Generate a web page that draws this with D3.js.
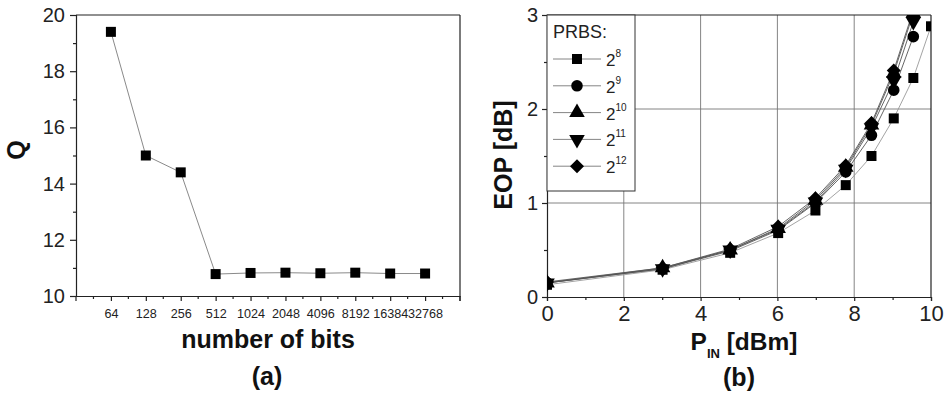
<!DOCTYPE html>
<html>
<head>
<meta charset="utf-8">
<script src="https://cdn.jsdelivr.net/npm/d3@7/dist/d3.min.js"></script>
<style>
  html, body { margin: 0; padding: 0; background: #fff; }
  svg { display: block; font-family: "Liberation Sans", Arial, sans-serif; }
  .axis path, .axis line { stroke: #222; stroke-width: 1.2; }
  .axis text { fill: #222; }
</style>
</head>
<body>
<svg id="chart" width="946" height="396"></svg>
<script>
// (a) Q factor versus pattern length
const bitCounts = ["64", "128", "256", "512", "1024", "2048", "4096", "8192", "16384", "32768"];
const qValues = [19.4, 15.0, 14.4, 10.78, 10.82, 10.83, 10.81, 10.83, 10.8, 10.8];
const qTicks = [10, 12, 14, 16, 18, 20];

// (b) eye-opening penalty versus input power, one series per PRBS length
const pinDbm = [0, 3.01, 4.77, 6.02, 6.99, 7.78, 8.45, 9.03, 9.54, 10];
const prbsNames = ["8", "9", "10", "11", "12"];
const eop2e8 = [0.13, 0.29, 0.47, 0.68, 0.92, 1.19, 1.50, 1.90, 2.33, 2.88];
const eop2e9 = [0.15, 0.30, 0.49, 0.71, 1.00, 1.33, 1.72, 2.20, 2.77];
const eop2e10 = [0.15, 0.31, 0.50, 0.73, 1.03, 1.38, 1.83, 2.38, 3.02];
const eop2e11 = [0.15, 0.30, 0.50, 0.72, 1.01, 1.36, 1.80, 2.30, 2.93];
const eop2e12 = [0.16, 0.31, 0.51, 0.75, 1.05, 1.40, 1.85, 2.41, 3.05];
const eopSeries = [eop2e8, eop2e9, eop2e10, eop2e11, eop2e12];
const markerShapes = ["square", "circle", "up", "down", "diamond"];
const pinTicks = [0, 2, 4, 6, 8, 10];
const eopTicks = [0, 1, 2, 3];

const svg = d3.select("#chart");

// marker path centred on the origin
function marker(shape) {
  switch (shape) {
    case "square": return d3.symbol().type(d3.symbolSquare).size(100)();
    case "circle": return d3.symbol().type(d3.symbolCircle).size(105)();
    case "up":
    case "down": return d3.symbol().type(d3.symbolTriangle).size(105)();
    case "diamond": { const r = 7; return `M0,${-r}L${r},0L0,${r}L${-r},0Z`; }
  }
}
function markerTransform(shape, x, y) {
  return shape === "down" ? `translate(${x},${y}) rotate(180)` : `translate(${x},${y})`;
}
function title(g, text) {
  return g.append("text").attr("text-anchor", "middle")
    .style("font-size", "25px").style("font-weight", "bold").attr("fill", "#111").text(text);
}

// ---------- panel (a) ----------
const A = { left: 76, right: 460, top: 15, bottom: 296 };
const xa = d3.scalePoint().domain(bitCounts).range([A.left, A.right]).padding(1);
const ya = d3.scaleLinear().domain([10, 20]).range([A.bottom, A.top]);
const ga = svg.append("g");

// frame top/right
ga.append("line").attr("x1", A.left).attr("x2", A.right).attr("y1", A.top).attr("y2", A.top)
  .attr("stroke", "#222").attr("stroke-width", 1.2);
ga.append("line").attr("x1", A.right).attr("x2", A.right).attr("y1", A.top).attr("y2", A.bottom + 5)
  .attr("stroke", "#222").attr("stroke-width", 1.2);

// y axis
const yaAxis = ga.append("g").attr("class", "axis").attr("transform", `translate(${A.left},0)`)
  .call(d3.axisLeft(ya).tickValues(qTicks).tickSize(6).tickPadding(5).tickFormat(d3.format("d")));
yaAxis.selectAll("text").style("font-size", "20px");
ga.append("g").attr("class", "axis").attr("transform", `translate(${A.left},0)`)
  .call(d3.axisLeft(ya).tickValues(d3.range(11, 20, 2)).tickSize(3).tickFormat(""))
  .select(".domain").remove();

// x axis (categories); extra ticks between categories
const xaAxis = ga.append("g").attr("class", "axis").attr("transform", `translate(0,${A.bottom})`)
  .call(d3.axisBottom(xa).tickSize(5).tickPadding(8).tickSizeOuter(0));
xaAxis.selectAll("text").style("font-size", "12.6px");
const step = xa.step();
const extraTicks = [{ x: A.left, len: 5 }, { x: A.right, len: 5 }];
for (let i = 0; i <= bitCounts.length; i++) extraTicks.push({ x: A.left + (i + 0.5) * step, len: 3 });
ga.selectAll(".mtick").data(extraTicks).join("line")
  .attr("x1", d => d.x).attr("x2", d => d.x)
  .attr("y1", A.bottom).attr("y2", d => A.bottom + d.len)
  .attr("stroke", "#222").attr("stroke-width", 1.2);

// data line + markers
ga.append("path")
  .datum(qValues)
  .attr("fill", "none").attr("stroke", "#8a8a8a").attr("stroke-width", 1)
  .attr("d", d3.line().x((d, i) => xa(bitCounts[i])).y(d => ya(d)));
ga.selectAll(".qpt").data(qValues).join("path")
  .attr("d", marker("square"))
  .attr("transform", (d, i) => `translate(${xa(bitCounts[i])},${ya(d)})`)
  .attr("fill", "#000");

// titles
title(ga, "Q").attr("transform", `translate(25,150) rotate(-90)`);
title(ga, "number of bits").attr("x", 268).attr("y", 348);
title(ga, "(a)").attr("x", 267).attr("y", 385);

// ---------- panel (b) ----------
const B = { left: 547, right: 931, top: 15, bottom: 297 };
const xb = d3.scaleLinear().domain([0, 10]).range([B.left, B.right]);
const yb = d3.scaleLinear().domain([0, 3]).range([B.bottom, B.top]);
const gb = svg.append("g");

gb.append("clipPath").attr("id", "clipB").append("rect")
  .attr("x", B.left).attr("y", B.top).attr("width", B.right - B.left).attr("height", B.bottom - B.top);

// grid
gb.selectAll(".vgrid").data(pinTicks.slice(1, -1)).join("line")
  .attr("x1", d => xb(d)).attr("x2", d => xb(d)).attr("y1", B.top).attr("y2", B.bottom)
  .attr("stroke", "#777").attr("stroke-width", 0.9);
gb.selectAll(".hgrid").data(eopTicks.slice(1, -1)).join("line")
  .attr("x1", B.left).attr("x2", B.right).attr("y1", d => yb(d)).attr("y2", d => yb(d))
  .attr("stroke", "#777").attr("stroke-width", 0.9);

// frame top/right
gb.append("line").attr("x1", B.left).attr("x2", B.right).attr("y1", B.top).attr("y2", B.top)
  .attr("stroke", "#222").attr("stroke-width", 1.2);
gb.append("line").attr("x1", B.right).attr("x2", B.right).attr("y1", B.top).attr("y2", B.bottom)
  .attr("stroke", "#222").attr("stroke-width", 1.2);

// axes
const ybAxis = gb.append("g").attr("class", "axis").attr("transform", `translate(${B.left},0)`)
  .call(d3.axisLeft(yb).tickValues(eopTicks).tickSize(5).tickPadding(4).tickFormat(d3.format("d")));
ybAxis.selectAll("text").style("font-size", "20px");
gb.append("g").attr("class", "axis").attr("transform", `translate(${B.left},0)`)
  .call(d3.axisLeft(yb).tickValues([0.5, 1.5, 2.5]).tickSize(3).tickFormat(""))
  .select(".domain").remove();
const xbAxis = gb.append("g").attr("class", "axis").attr("transform", `translate(0,${B.bottom})`)
  .call(d3.axisBottom(xb).tickValues(pinTicks).tickSize(4).tickPadding(4).tickFormat(d3.format("d")));
xbAxis.selectAll("text").style("font-size", "22px");
gb.append("g").attr("class", "axis").attr("transform", `translate(0,${B.bottom})`)
  .call(d3.axisBottom(xb).tickValues([1, 3, 5, 7, 9]).tickSize(3).tickFormat(""))
  .select(".domain").remove();

// series
const lineB = d3.line().x((d, i) => xb(pinDbm[i])).y(d => yb(d));
const plotB = gb.append("g").attr("clip-path", "url(#clipB)");
eopSeries.forEach((vals, s) => {
  plotB.append("path").datum(vals)
    .attr("fill", "none").attr("stroke", s === 0 ? "#999" : "#555").attr("stroke-width", 0.9)
    .attr("d", lineB);
});
eopSeries.forEach((vals, s) => {
  plotB.selectAll(`.pt${s}`).data(vals).join("path")
    .attr("d", marker(markerShapes[s]))
    .attr("transform", (d, i) => markerTransform(markerShapes[s], xb(pinDbm[i]), yb(d)))
    .attr("fill", "#000");
});

// legend
const leg = gb.append("g");
leg.append("rect").attr("x", B.left).attr("y", B.top).attr("width", 88).attr("height", 176)
  .attr("fill", "#fff").attr("stroke", "#333").attr("stroke-width", 1);
leg.append("text").attr("x", 553).attr("y", 38).style("font-size", "18px").attr("fill", "#222").text("PRBS:");
prbsNames.forEach((n, s) => {
  const y = 59 + s * 26.8;
  leg.append("line").attr("x1", 553).attr("x2", 601).attr("y1", y).attr("y2", y)
    .attr("stroke", "#777").attr("stroke-width", 0.9);
  leg.append("path").attr("d", marker(markerShapes[s]))
    .attr("transform", markerTransform(markerShapes[s], 577, y)).attr("fill", "#000");
  const t = leg.append("text").attr("x", 606).attr("y", y + 7).style("font-size", "17px").attr("fill", "#222");
  t.append("tspan").text("2");
  t.append("tspan").attr("dy", -9).style("font-size", "10px").text(n);
});

// titles
title(gb, "EOP [dB]").attr("transform", `translate(512,155) rotate(-90)`);
const xt = title(gb, "").attr("x", 744).attr("y", 350).style("font-size", "24.5px");
xt.append("tspan").text("P");
xt.append("tspan").attr("dy", 8).style("font-size", "13px").text("IN");
xt.append("tspan").attr("dy", -8).text(" [dBm]");
title(gb, "(b)").attr("x", 739).attr("y", 386);
</script>
</body>
</html>
